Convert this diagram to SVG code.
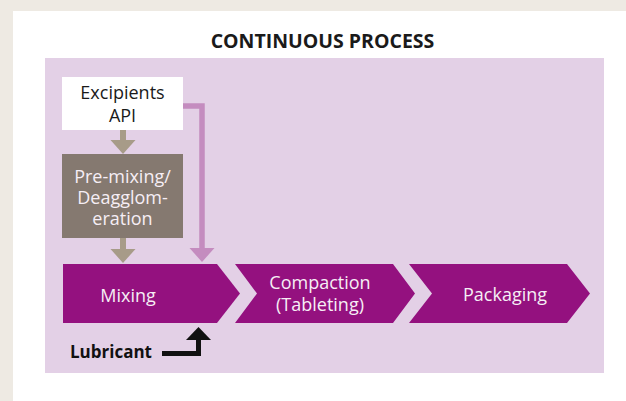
<svg xmlns="http://www.w3.org/2000/svg" width="626" height="401" viewBox="0 0 626 401">
<defs>
<style>
.t{font-family:"Open Sans","Noto Sans","Liberation Sans",sans-serif;text-anchor:middle}
.w{fill:#f6eef5;font-size:18px}
.chev{fill:#94117f}
</style>
</defs>
<rect x="0" y="0" width="626" height="401" fill="#eeeae3"/>
<rect x="13" y="11" width="613" height="390" fill="#ffffff"/>
<text class="t" x="322.5" y="48" font-size="19.5" font-weight="bold" fill="#1a1a1a">CONTINUOUS PROCESS</text>
<rect x="45" y="58" width="559" height="315" fill="#e3d0e6"/>
<g id="connectors">
<path d="M183,106 H202 V249" fill="none" stroke="#c48cbf" stroke-width="5.5"/>
<polygon points="189.5,248 214.5,248 202,262" fill="#c48cbf"/>
<rect x="120" y="130" width="6" height="11" fill="#a79b88"/>
<polygon points="110.5,140 135.5,140 123,154" fill="#a79b88"/>
<rect x="120" y="238" width="6" height="12" fill="#a79b88"/>
<polygon points="110.5,249 135.5,249 123,263" fill="#a79b88"/>
<path d="M162,353.5 H198.5 V339" fill="none" stroke="#111111" stroke-width="5"/>
<polygon points="186,340 211,340 198.5,327" fill="#111111"/>
</g>
<g id="excipients">
<rect x="62" y="77" width="121" height="53" fill="#ffffff"/>
<text class="t" x="122.5" y="99" font-size="18" fill="#1a1a1a">Excipients</text>
<text class="t" x="122.5" y="122" font-size="18" fill="#1a1a1a">API</text>
</g>
<g id="premixing">
<rect x="62" y="154" width="121" height="84" fill="#857970"/>
<text class="t w" x="122.5" y="183">Pre-mixing/</text>
<text class="t w" x="122.5" y="204">Deagglom-</text>
<text class="t w" x="122.5" y="225">eration</text>
</g>
<g id="mixing">
<polygon class="chev" points="63,264 217,264 240,293.5 217,323 63,323"/>
<text class="t w" x="128" y="302">Mixing</text>
</g>
<g id="compaction">
<polygon class="chev" points="235,264 393,264 415,293.5 393,323 235,323 257,293.5"/>
<text class="t w" x="320" y="289">Compaction</text>
<text class="t w" x="320" y="311">(Tableting)</text>
</g>
<g id="packaging">
<polygon class="chev" points="409,264 567,264 590,293.5 567,323 409,323 432,293.5"/>
<text class="t w" x="505" y="301">Packaging</text>
</g>
<g id="lubricant">
<text class="t" x="111" y="358" font-size="17" font-weight="bold" fill="#111111">Lubricant</text>
</g>
</svg>
